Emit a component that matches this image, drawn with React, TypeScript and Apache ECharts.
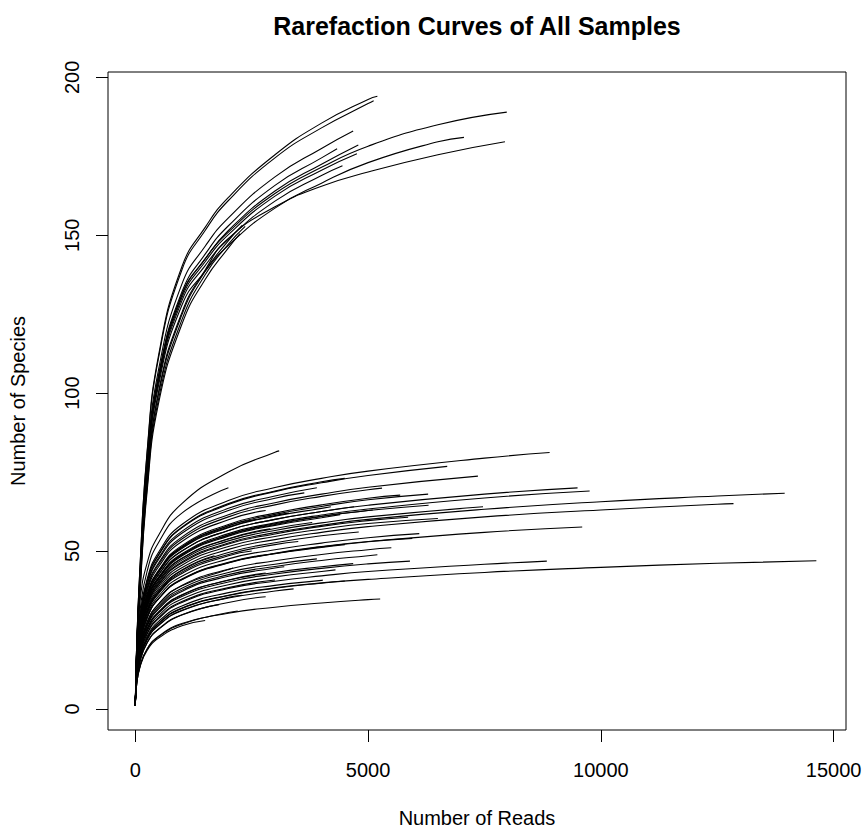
import React, { useEffect, useRef } from "react";
import * as echarts from "echarts";

const chartTitle = "Rarefaction Curves of All Samples";
const xName = "Number of Reads";
const yName = "Number of Species";
const xTicks = [0, 5000, 10000, 15000];
const yTicks = [0, 50, 100, 150, 200];

// Upper (high diversity) samples: species at each read depth, then end point
const upperReadSteps = [1, 25, 100, 250, 500, 1000, 1500, 2000, 3000, 4000, 5000, 6500];
const upperEnds = [
  [5200, 194], [5120, 192.6], [4680, 183], [4790, 178.6], [7980, 189], [7060, 181], [7940, 179.6],
  [4335, 177.4], [4760, 175.8], [4450, 172], [2360, 152.8], [2300, 153.2], [2250, 150.5],
];
const upperSpecies = [
  [1, 18, 45, 81, 112, 140, 152.5, 162, 175.5, 185.5, 193],
  [1, 17.9, 44.7, 80.4, 111.2, 139, 151.5, 161, 174.5, 184, 191.7],
  [1, 17.3, 43.2, 77.6, 107.5, 134.5, 146.5, 155.5, 168.5, 177.5],
  [1, 16.8, 42, 75.4, 104.8, 131, 142.5, 151.5, 164, 172.5],
  [1, 16.7, 41.6, 75.2, 105.3, 131.2, 142.5, 151, 163.2, 171.5, 178.2, 185],
  [1, 16.2, 40.4, 73.2, 102.5, 127.8, 138.6, 146.8, 158.6, 166.5, 173, 179.6],
  [1, 15.5, 39, 71, 100.5, 125.5, 139, 149, 159, 165.5, 170, 175.5],
  [1, 17, 42.4, 76.2, 105.8, 132, 144, 153, 165.8, 174.5],
  [1, 16.6, 41.4, 74.8, 104.2, 130.2, 141.6, 150.2, 162.4, 170.6],
  [1, 16.4, 41, 74, 103.6, 129.2, 140.4, 148.8, 160.8, 168.9],
  [1, 14.5, 37, 69.5, 98.2, 123.2, 137.5, 147.2],
  [1, 14.8, 38, 71, 99.8, 124.8, 138.6, 148.3],
  [1, 14.2, 36.3, 68.3, 96.8, 121.8, 136, 146],
];

// Lower (low diversity) samples
const lowerReadSteps = [1, 25, 100, 250, 500, 1000, 2000, 3000, 4000, 5000, 7500, 10000, 12500];
const lowerEnds = [
  [3090, 81.7], [8900, 81.2], [6700, 76.8], [7360, 73.7], [5300, 69.9], [6290, 68], [5690, 67.7],
  [13950, 68.3], [9500, 70], [9760, 69], [12850, 65], [7470, 64], [9600, 57.6], [8840, 46.8],
  [14630, 46.9], [5900, 46.8], [5860, 60.7], [5950, 54], [4030, 40.8], [5260, 34.8], [3630, 68.4],
  [4200, 64], [4700, 64], [2600, 60], [3300, 62], [5100, 63], [4400, 61.5], [6300, 64.5],
  [2900, 57], [3800, 59], [4800, 56], [3500, 53], [4500, 52], [2500, 50], [6100, 55.5],
  [4680, 46], [3900, 47.5], [3200, 45], [5200, 48.8], [2800, 43], [4300, 44], [2300, 36],
  [3400, 38], [4500, 40.5], [1800, 33], [2800, 35.5], [1500, 28], [2200, 31], [2000, 70],
  [4500, 73], [3900, 70], [1700, 48.5], [2100, 44.6], [2800, 62.8], [6500, 60.3], [5500, 51],
  [3000, 40.8],
];
const lowerSpecies = [
  [1, 18, 34, 46, 55, 65, 75, 81.3],
  [1, 15.8, 29.2, 40.9, 49.6, 58.4, 66, 70.1, 73, 75.3, 79.4],
  [1, 15.5, 28.7, 40.1, 48.7, 57.3, 64.7, 68.8, 71.6, 73.9],
  [1, 14.7, 27.2, 38.1, 46.2, 54.4, 61.5, 65.3, 68, 70.2],
  [1, 14.5, 26.9, 37.7, 45.7, 53.8, 60.8, 64.6, 67.3, 69.4],
  [1, 13.9, 25.7, 35.9, 43.6, 51.3, 58, 61.6, 64.1, 66.2],
  [1, 14, 25.9, 36.2, 43.9, 51.7, 58.4, 62, 64.6, 66.7],
  [1, 12.6, 23.3, 32.6, 39.5, 46.5, 52.5, 55.8, 58.1, 60, 63.2, 65.6, 67.4],
  [1, 13.5, 25, 35, 42.5, 50, 56.5, 60, 62.5, 64.5, 68],
  [1, 13.3, 24.6, 34.4, 41.7, 49.1, 55.5, 58.9, 61.4, 63.3, 66.8],
  [1, 12.1, 22.4, 31.3, 38, 44.7, 50.5, 53.6, 55.9, 57.7, 60.8, 63, 64.8],
  [1, 12.7, 23.6, 33, 40, 47.1, 53.2, 56.5, 58.9, 60.8],
  [1, 11.1, 20.6, 28.8, 34.9, 41.1, 46.4, 49.3, 51.4, 53, 55.9],
  [1, 9.1, 16.9, 23.6, 28.6, 33.7, 38.1, 40.4, 42.1, 43.5, 45.8],
  [1, 8.6, 15.9, 22.3, 27, 31.8, 35.9, 38.2, 39.8, 41, 43.2, 44.8, 46.1],
  [1, 9.6, 17.8, 24.9, 30.3, 35.6, 40.2, 42.7, 44.5, 45.9],
  [1, 12.5, 23.1, 32.3, 39.3, 46.2, 52.2, 55.4, 57.8, 59.6],
  [1, 11.1, 20.5, 28.7, 34.9, 41, 46.3, 49.2, 51.3, 52.9],
  [1, 8.8, 16.3, 22.8, 27.7, 32.6, 36.8, 39.1, 40.7],
  [1, 7.2, 13.4, 18.8, 22.8, 26.8, 30.3, 32.2, 33.5, 34.6],
  [1, 15, 27.8, 38.9, 47.3, 55.6, 62.8, 66.7],
  [1, 13.7, 25.4, 35.6, 43.2, 50.8, 57.4, 61, 63.5],
  [1, 13.5, 25, 35, 42.5, 50, 56.5, 60, 62.5],
  [1, 13.9, 25.7, 35.9, 43.6, 51.3, 58],
  [1, 13.8, 25.5, 35.7, 43.4, 51, 57.6, 61.2],
  [1, 13.2, 24.4, 34.2, 41.5, 48.8, 55.1, 58.6, 61, 62.8],
  [1, 13.1, 24.2, 33.9, 41.1, 48.4, 54.7, 58.1, 60.5],
  [1, 13.1, 24.4, 34.1, 41.4, 48.7, 55, 58.4, 60.9, 62.8],
  [1, 12.9, 23.9, 33.4, 40.5, 47.7, 53.9],
  [1, 12.9, 23.8, 33.3, 40.5, 47.6, 53.8, 57.1],
  [1, 11.8, 21.9, 30.7, 37.2, 43.8, 49.5, 52.6, 54.8],
  [1, 11.7, 21.7, 30.3, 36.8, 43.3, 48.9, 52],
  [1, 11, 20.5, 28.6, 34.8, 40.9, 46.2, 49.1, 51.1],
  [1, 11.6, 21.5, 30, 36.5, 42.9, 48.5],
  [1, 11.3, 21, 29.4, 35.7, 42, 47.5, 50.4, 52.5, 54.2],
  [1, 9.7, 18, 25.2, 30.6, 36, 40.7, 43.2, 45],
  [1, 10.3, 19.1, 26.7, 32.5, 38.2, 43.2, 45.8],
  [1, 10, 18.6, 26, 31.6, 37.2, 42, 44.6],
  [1, 10.2, 18.8, 26.3, 32, 37.6, 42.5, 45.1, 47, 48.5],
  [1, 9.7, 18, 25.3, 30.7, 36.1, 40.8],
  [1, 9.4, 17.4, 24.4, 29.6, 34.8, 39.3, 41.8, 43.5],
  [1, 8.4, 15.6, 21.8, 26.5, 31.2, 35.3],
  [1, 8.4, 15.6, 21.8, 26.4, 31.1, 35.1, 37.3],
  [1, 8.6, 16, 22.3, 27.1, 31.9, 36, 38.3, 39.9],
  [1, 8, 14.9, 20.8, 25.2, 29.7],
  [1, 8, 14.9, 20.9, 25.3, 29.8, 33.7],
  [1, 7.1, 13.2, 18.4, 22.4, 26.3],
  [1, 7.3, 13.5, 18.9, 23, 27, 30.5],
  [1, 16.7, 31, 43.4, 52.7, 62],
  [1, 15.5, 28.8, 40.3, 48.9, 57.5, 65, 69, 71.9],
  [1, 15.2, 28.1, 39.3, 47.8, 56.2, 63.5, 67.4],
  [1, 11.9, 22, 30.8, 37.4, 44],
  [1, 10.5, 19.5, 27.3, 33.2, 39, 44.1],
  [1, 14.3, 26.5, 37.1, 45, 53, 59.9],
  [1, 12.3, 22.8, 31.9, 38.7, 45.5, 51.4, 54.6, 56.9, 58.7],
  [1, 10.6, 19.6, 27.4, 33.2, 39.1, 44.2, 46.9, 48.9, 50.4],
  [1, 9.2, 17, 23.8, 28.9, 34, 38.4],
];

const FONT = '"Liberation Sans", Arial, Helvetica, sans-serif';

function buildCurve(steps: number[], species: number[], end: number[]) {
  const pts: number[][] = species.map((s, i) => [steps[i], s]);
  pts.push(end);
  return pts;
}

export default function App() {
  const ref = useRef<HTMLDivElement>(null);
  useEffect(() => {
    document.body.style.margin = "0";
    if (!ref.current) return;
    const chart = echarts.init(ref.current, undefined, { renderer: "svg" });
    const curves: number[][][] = [
      ...upperSpecies.map((s, i) => buildCurve(upperReadSteps, s, upperEnds[i])),
      ...lowerSpecies.map((s, i) => buildCurve(lowerReadSteps, s, lowerEnds[i])),
    ];
    const textStyle = (font: string) => ({
      font,
      fill: "#000",
      textAlign: "center",
      textVerticalAlign: "middle",
      align: "center",
      verticalAlign: "middle",
    });
    chart.setOption({
      animation: false,
      backgroundColor: "#fff",
      grid: {
        left: 108,
        right: 21,
        top: 72,
        bottom: 107,
        show: true,
        borderColor: "#000",
        borderWidth: 1,
        backgroundColor: "transparent",
      },
      xAxis: {
        type: "value",
        min: -587,
        max: 15267,
        splitLine: { show: false },
        axisLine: { show: false, onZero: false },
        axisTick: {
          show: true,
          inside: false,
          customValues: xTicks,
          length: 12,
          lineStyle: { color: "#000", width: 1 },
        },
        axisLabel: {
          customValues: xTicks,
          formatter: (v: number) => String(v),
          fontSize: 20,
          fontFamily: FONT,
          color: "#000",
          margin: 30,
        },
      },
      yAxis: {
        type: "value",
        min: -6.7,
        max: 201.7,
        splitLine: { show: false },
        axisLine: { show: false, onZero: false },
        axisTick: {
          show: true,
          inside: false,
          customValues: yTicks,
          length: 12,
          lineStyle: { color: "#000", width: 1 },
        },
        axisLabel: {
          customValues: yTicks,
          formatter: (v: number) => String(v),
          rotate: 90,
          fontSize: 20,
          fontFamily: FONT,
          color: "#000",
          margin: 26,
        },
      },
      graphic: [
        { type: "text", x: 477, y: 26, style: { text: chartTitle, ...textStyle(`bold 25px ${FONT}`) } },
        { type: "text", x: 477, y: 818, style: { text: xName, ...textStyle(`20px ${FONT}`) } },
        {
          type: "text",
          x: 18,
          y: 401,
          rotation: Math.PI / 2,
          style: { text: yName, ...textStyle(`20px ${FONT}`) },
        },
      ],
      series: curves.map((pts) => ({
        type: "line",
        data: pts,
        showSymbol: false,
        symbol: "none",
        smooth: 0.5,
        silent: true,
        lineStyle: { color: "#000", width: 1.1 },
      })),
    });
    return () => chart.dispose();
  }, []);
  return <div ref={ref} style={{ width: 867, height: 837 }} />;
}
